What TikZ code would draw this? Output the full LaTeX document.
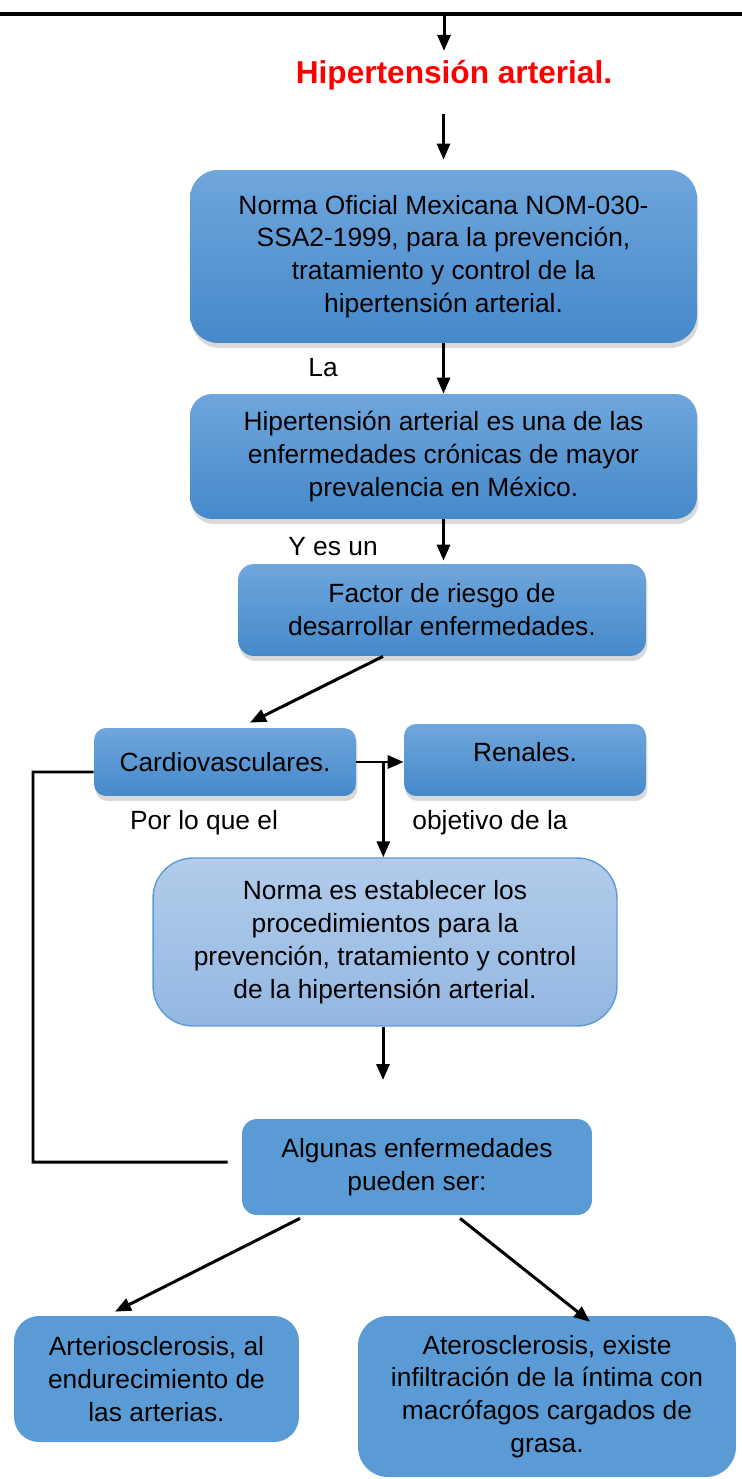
\documentclass[tikz,border=0pt]{standalone}
\usepackage{fontspec}
\setmainfont{Liberation Sans}
\usetikzlibrary{arrows.meta,shadows}

\definecolor{boxtop}{HTML}{6FA6DC}
\definecolor{boxbot}{HTML}{4689CA}
\definecolor{flatbox}{HTML}{5B9BD5}
\definecolor{paletop}{HTML}{B2CCEA}
\definecolor{palebot}{HTML}{93B7E2}
\definecolor{paleline}{HTML}{5B9BD5}

\begin{document}
\begin{tikzpicture}[x=0.02cm,y=-0.02cm,>={Triangle[length=0.32cm,width=0.26cm]},
        arr/.style={->,line width=1.7pt},
        link/.style={line width=1.7pt},
        txt/.style={font=\fontsize{15}{18.7}\selectfont},
        gbox/.style={rectangle,rounded corners=#1,align=center,inner sep=0pt,txt,
            top color=boxtop,bottom color=boxbot,
            drop shadow={opacity=0.3,shadow xshift=0.03cm,shadow yshift=-0.1cm}},
        fbox/.style={rectangle,rounded corners=#1,align=center,inner sep=0pt,txt,
            fill=flatbox},
        pbox/.style={rectangle,rounded corners=#1,align=center,inner sep=0pt,txt,
            top color=paletop,bottom color=palebot,draw=paleline,line width=0.8pt}]

  \useasboundingbox (0,0) rectangle (742,1479);

  % line at the top
  \coordinate (left) at (0,14);
  \coordinate (right) at (742,14);
  \coordinate (drop) at (444,14);
  \draw[line width=1.8pt] (left) -- (right);

  \node[text=red,font=\bfseries\fontsize{18}{22}\selectfont] (title) at (454,75) {Hipertensión arterial.};

  \node[gbox=0.56cm,minimum width=10.14cm,minimum height=3.46cm] (norma) at (443.5,256.5)
    {Norma Oficial Mexicana NOM-030-\\SSA2-1999, para la prevención,\\tratamiento y control de la\\hipertensión arterial.};
  \node[gbox=0.44cm,minimum width=10.14cm,minimum height=2.5cm] (cronica) at (443.5,456.5)
    {Hipertensión arterial es una de las\\enfermedades crónicas de mayor\\prevalencia en México.};
  \node[gbox=0.32cm,minimum width=8.16cm,minimum height=1.84cm] (factor) at (442,610)
    {Factor de riesgo de\\desarrollar enfermedades.};
  \node[gbox=0.24cm,minimum width=5.24cm,minimum height=1.36cm] (cardio) at (225,762)
    {Cardiovasculares.};
  \node[gbox=0.24cm,minimum width=4.84cm,minimum height=1.44cm,text depth=9pt] (renal) at (525,760)
    {Renales.};
  \node[pbox=0.8cm,minimum width=9.28cm,minimum height=3.36cm] (objetivo) at (385,942)
    {Norma es establecer los\\procedimientos para la\\prevención, tratamiento y control\\de la hipertensión arterial.};
  \node[fbox=0.3cm,minimum width=7cm,minimum height=1.92cm] (algunas) at (417,1167)
    {Algunas enfermedades\\pueden ser:};
  \node[fbox=0.5cm,minimum width=5.7cm,minimum height=2.52cm] (arterio) at (156.5,1379)
    {Arteriosclerosis, al\\endurecimiento de\\las arterias.};
  \node[fbox=0.6cm,minimum width=7.56cm,minimum height=3.22cm] (atero) at (547,1396.5)
    {Aterosclerosis, existe\\infiltración de la íntima con\\macrófagos cargados de\\grasa.};

  % words between the boxes
  \node[txt] (la) at (323,368) {La};
  \node[txt] (yes) at (333,547) {Y es un};
  \node[txt] (porlo) at (204,823) {Por lo que el};
  \node[txt] (objde) at (490,823) {objetivo de la};

  \coordinate (free) at (383,1080);

  \draw[arr] (drop) -- ([yshift=0.06cm]title.north -| drop);
  \draw[arr,shorten <=0.36cm,shorten >=0.2cm] (title.south -| norma.north) -- (norma.north);
  \draw[arr] (norma.south) -- (cronica.north);
  \draw[arr] (cronica.south) -- ([yshift=0.06cm]cronica.south |- factor.north);
  \draw[arr] ([xshift=-1.18cm]factor.south) -- ([xshift=0.5cm,yshift=0.1cm]cardio.north);
  \draw[arr] (cardio.east) -- (cardio.east -| renal.west);
  \draw[arr] ([xshift=0.54cm]cardio.east) -- ([xshift=0.54cm]cardio.east |- objetivo.north);
  \draw[arr] (objetivo.south -| free) -- (free);
  \draw[link] ([yshift=-0.2cm]cardio.west) -| (33,1162) -- ([xshift=-0.28cm,yshift=0.1cm]algunas.west);
  \draw[arr] ([xshift=-2.34cm,yshift=-0.06cm]algunas.south) -- ([xshift=-0.83cm,yshift=0.08cm]arterio.north);
  \draw[arr] ([xshift=0.86cm,yshift=-0.06cm]algunas.south) -- ([xshift=0.86cm,yshift=-0.12cm]atero.north);

\end{tikzpicture}
\end{document}
